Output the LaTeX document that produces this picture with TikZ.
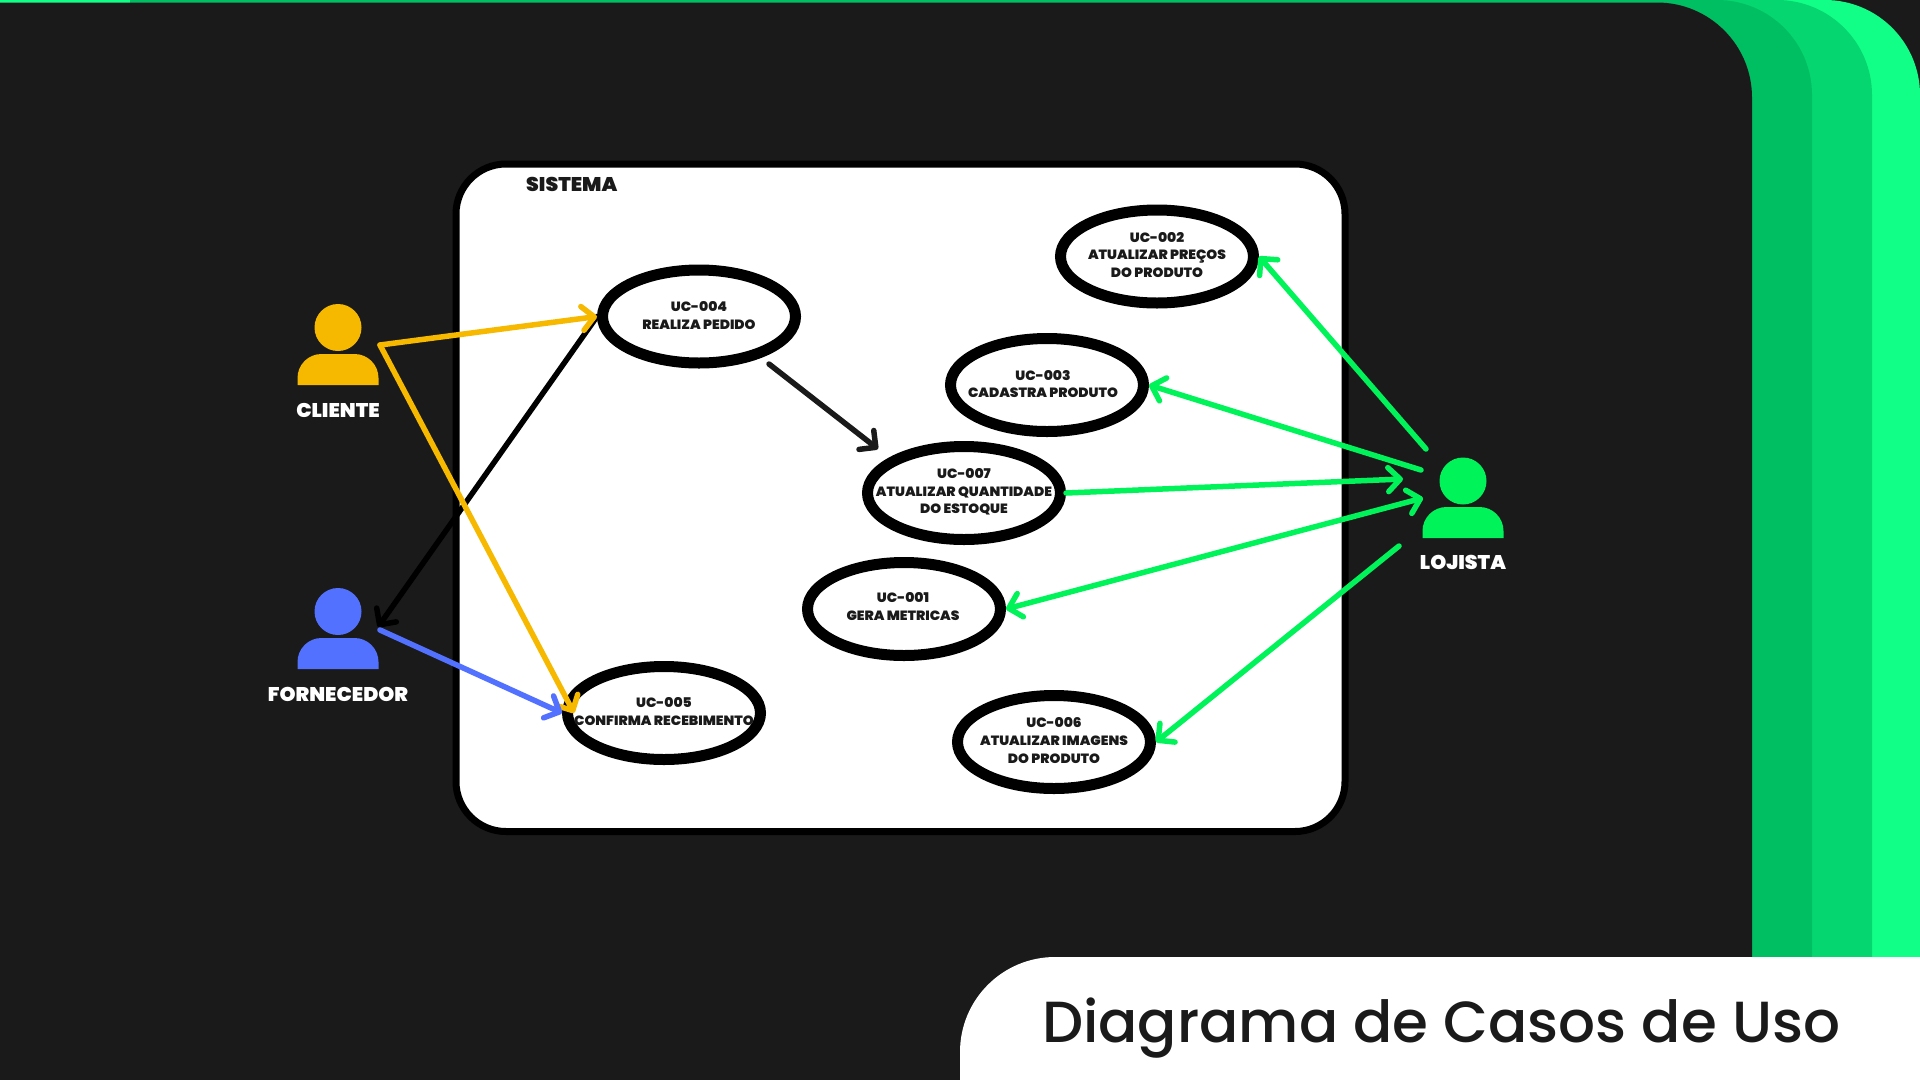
\documentclass[tikz,border=0pt]{standalone}
\usepackage{fontspec}
\usetikzlibrary{shapes.geometric,arrows.meta}
\setmainfont{Poppins Medium}
\newfontfamily\labf{Poppins Black}[FakeStretch=1.03]
\definecolor{bgdark}{HTML}{1A1A1A}
\definecolor{gA}{HTML}{00BF63}
\definecolor{gB}{HTML}{06D66F}
\definecolor{gC}{HTML}{12FF87}
\definecolor{gLine}{HTML}{00F45A}
\definecolor{yel}{HTML}{F7B900}
\definecolor{blu}{HTML}{5271FF}
\tikzset{
  uc/.style={ellipse,draw=black,fill=white,line width=11pt,minimum width=193pt,minimum height=93pt,inner sep=0pt,outer sep=5.5pt},
  uctext/.style={font=\labf\fontsize{13.4pt}{17.6pt}\selectfont,text=bgdark,align=center,inner sep=0pt},
  actorname/.style={font=\labf\fontsize{19.8pt}{22pt}\selectfont,text=white,inner sep=0pt},
  head/.style={circle,minimum size=47pt,inner sep=0pt,outer sep=0pt},
  conn/.style={line width=5.5pt,line cap=round,line join=round},
  tip/.style={-{Straight Barb[length=12pt,width=24pt,round]}},
  tiptwo/.style={{Straight Barb[length=12pt,width=24pt,round]}-{Straight Barb[length=12pt,width=24pt,round]}},
}
\newcommand{\actorbody}[3]{% x, bottom y, colour
  \fill[#3] (#1-40.5,#2) -- (#1-40.5,#2-7) arc[start angle=180,end angle=270,radius=24] -- (#1+16.5,#2-31) arc[start angle=270,end angle=360,radius=24] -- (#1+40.5,#2) -- cycle;
}
\begin{document}
\begin{tikzpicture}[x=1pt,y=-1pt]
\useasboundingbox (0,0) rectangle (1920,1080);
\fill[bgdark] (0,0) rectangle (1920,1080);
% green bands
\fill[gC] (0,0) -- (1825,0) arc[start angle=-90,end angle=0,radius=95] -- (1920,1000) -- (0,1000) -- cycle;
\fill[gB] (0,0) -- (1777,0) arc[start angle=-90,end angle=0,radius=95] -- (1872,1000) -- (0,1000) -- cycle;
\fill[gA] (130,0) -- (1717,0) arc[start angle=-90,end angle=0,radius=95] -- (1812,1000) -- (0,1000) -- (0,2.5) -- (130,2.5) -- cycle;
\fill[gC] (0,0) rectangle (130,2.5);
\fill[bgdark] (-2,2.5) -- (1657,2.5) arc[start angle=-90,end angle=0,radius=95] -- (1752,1004) -- (-2,1004) -- cycle;
% title panel
\fill[white] (1921,957) -- (1055,957) arc[start angle=-90,end angle=-180,radius=95] -- (960,1081) -- (1921,1081) -- cycle;
\node[anchor=base west,inner sep=0pt,text=bgdark,font=\fontsize{58pt}{70pt}\selectfont] (title) at (1042,1042) {Diagrama de Casos de Uso};
% system
\draw[line width=7pt,fill=white,rounded corners=50pt] (456,164) rectangle (1345,831.5);
\node[anchor=base west,inner sep=0pt,font=\labf\fontsize{19.8pt}{22pt}\selectfont,text=bgdark] (sistema) at (526,191) {SISTEMA};
% use cases
\node[uc] (uc2) at (1157,256.5) {};
\node[uc] (uc3) at (1047,385) {};
\node[uc] (uc4) at (699,316.5) {};
\node[uc] (uc7) at (964,493) {};
\node[uc] (uc1) at (904,609) {};
\node[uc] (uc5) at (664,713) {};
\node[uc] (uc6) at (1054,742) {};
\node[uctext] (t2) at (1157,255) {UC-002\\ATUALIZAR PREÇOS\\DO PRODUTO};
\node[uctext] (t3) at (1043,384) {UC-003\\CADASTRA PRODUTO};
\node[uctext] (t4) at (699,315.5) {UC-004\\REALIZA PEDIDO};
\node[uctext] (t7) at (964,492) {UC-007\\ATUALIZAR QUANTIDADE\\DO ESTOQUE};
\node[uctext] (t1) at (903,606.5) {UC-001\\GERA METRICAS};
\node[uctext] (t5) at (664,711.5) {UC-005\\CONFIRMA RECEBIMENTO};
\node[uctext] (t6) at (1054,740.5) {UC-006\\ATUALIZAR IMAGENS\\DO PRODUTO};
% actors
\node[head,fill=yel] (cliente) at (338,327.5) {};
\actorbody{338}{385}{yel}
\node[actorname] (lcliente) at (338,410) {CLIENTE};
\node[head,fill=blu] (fornecedor) at (338,611.5) {};
\actorbody{338}{669}{blu}
\node[actorname] (lfornecedor) at (338,694) {FORNECEDOR};
\node[head,fill=gLine] (lojista) at (1463,481) {};
\actorbody{1463}{538}{gLine}
\node[actorname] (llojista) at (1463,562) {LOJISTA};
% free ends
\coordinate (cOut) at (380,345);
\coordinate (fIn) at (378,627);
\coordinate (fOut) at (380,630);
\coordinate (uc5in) at (574,713);
\coordinate (uc4out) at (769,364);
\coordinate (uc7in) at (878,449);
\coordinate (lA) at (1426,449);
\coordinate (lB) at (1421,470);
\coordinate (lC) at (1403,479);
\coordinate (lD) at (1423,498);
\coordinate (lE) at (1399,546);
% connectors
\draw[conn,tip,black] (uc4.west) -- (fIn);
\draw[conn,tip,yel] (cOut) -- (uc4.west);
\draw[conn,tip,yel] (cOut) -- (uc5in);
\draw[conn,tip,blu] (fOut) -- (uc5.west);
\draw[conn,tip,bgdark] (uc4out) -- (uc7in);
\draw[conn,tip,gLine] (lA) -- (uc2.east);
\draw[conn,tip,gLine] (lB) -- (uc3.east);
\draw[conn,tip,gLine] (uc7.east) -- (lC);
\draw[conn,tiptwo,gLine] (uc1.east) -- (lD);
\draw[conn,tip,gLine] (lE) -- (uc6.east);
\end{tikzpicture}
\end{document}
